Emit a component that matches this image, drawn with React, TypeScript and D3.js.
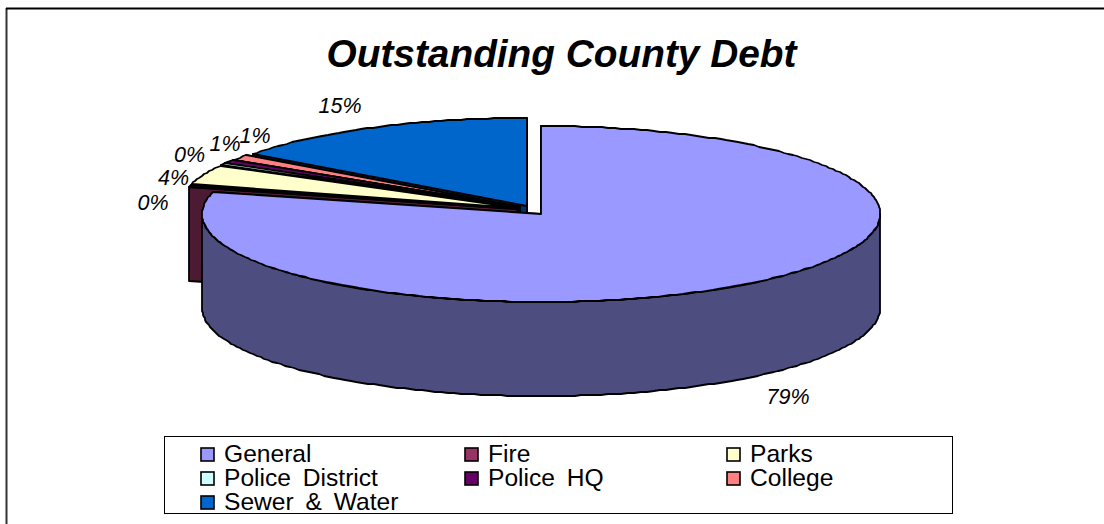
import React from "react";
import * as d3 from "d3";

const categories = ["General", "Fire", "Parks", "Police District", "Police HQ", "College", "Sewer & Water"];
const shares = [79, 0.4, 3.6, 0.3, 0.7, 1, 15];
const fills = ["#9999FF", "#993366", "#FFFFCC", "#CCFFFF", "#660066", "#FF8080", "#0066CC"];
const sides = ["#4D4D80", "#4D1A33", "#808066", "#668080", "#330033", "#804040", "#003366"];
const explosions = [0.039, 0.049, 0.049, 0.049, 0.049, 0.045, 0.039];
const labelAnchors: [number, number][] = [
  [788, 404], [153, 210], [173.5, 185], [189.5, 162], [225, 151], [255, 143], [340, 113],
];

const W = 1104;
const H = 524;
const FONT = "'Liberation Sans', Arial, sans-serif";

// Plot geometry of the tilted pie
const cx = 533;
const cy = 210.2;
const rx = 339;
const ry = 88;
const depth = 94;
const liftRatio = 1.4;

const xUnit = d3.scaleLinear().domain([-1, 1]).range([-rx, rx]);
const yUnit = d3.scaleLinear().domain([-1, 1]).range([-ry, ry]);

type Pt = [number, number];

const pieLayout = d3.pie<number>().sort(null).startAngle(0).endAngle(2 * Math.PI);
const arcs = pieLayout(shares);

const onRim = (a: number, ox: number, oy: number): Pt => [
  Math.round(ox + xUnit(Math.sin(a))),
  Math.round(oy - yUnit(Math.cos(a))),
];

const rimAngles = (a0: number, a1: number): number[] => {
  const n = Math.max(2, Math.ceil(Math.abs(a1 - a0) / 0.02));
  return d3.range(n + 1).map((i) => a0 + ((a1 - a0) * i) / n);
};

const toPath = d3.line<Pt>().x((p) => p[0]).y((p) => p[1]);

const closed = (pts: Pt[]) => (toPath(pts) ?? "") + "Z";

export default function App() {
  // Back slices first so nearer ones paint over them
  const order = d3.range(shares.length).reverse();

  return (
    <svg
      width={W}
      height={H}
      viewBox={`0 0 ${W} ${H}`}
      style={{ position: "absolute", left: 0, top: 0, display: "block", background: "#fff" }}
    >
      <rect x={0} y={0} width={W} height={H} fill="#fff" />
      <line x1={6.5} y1={8} x2={6.5} y2={H} stroke="#333" strokeWidth={2} />
      <line x1={6} y1={8.5} x2={W} y2={8.5} stroke="#000" strokeWidth={2} />

      <text
        x={561.5}
        y={67}
        textAnchor="middle"
        fontFamily={FONT}
        fontSize={38.8}
        fontWeight="bold"
        fontStyle="italic"
        fill="#000"
      >
        Outstanding County Debt
      </text>

      {order.map((i) => {
        const { startAngle: a0, endAngle: a1 } = arcs[i];
        const mid = (a0 + a1) / 2;
        const ox = cx + explosions[i] * xUnit(Math.sin(mid));
        const oy = cy - explosions[i] * liftRatio * yUnit(Math.cos(mid));
        const apex: Pt = [Math.round(ox), Math.round(oy)];
        const rim = rimAngles(a0, a1).map((a) => onRim(a, ox, oy));
        const drop = (p: Pt): Pt => [p[0], p[1] + depth];

        const startEdge = onRim(a0, ox, oy);
        const endEdge = onRim(a1, ox, oy);
        const front =
          a0 < 1.5 * Math.PI && a1 > 0.5 * Math.PI
            ? rimAngles(Math.max(a0, 0.5 * Math.PI), Math.min(a1, 1.5 * Math.PI)).map((a) => onRim(a, ox, oy))
            : [];

        return (
          <g key={categories[i]} stroke="#000" strokeWidth={1.8} strokeLinejoin="round">
            {/* cut faces of the wedge, the rear one first */}
            <path d={closed([apex, endEdge, drop(endEdge), drop(apex)])} fill={sides[i]} />
            <path d={closed([apex, startEdge, drop(startEdge), drop(apex)])} fill={sides[i]} />
            {/* outer rim wall */}
            {front.length > 0 && (
              <path d={closed([...front, ...front.map(drop).reverse()])} fill={sides[i]} />
            )}
            <path d={closed([apex, ...rim])} fill={fills[i]} />
          </g>
        );
      })}

      {labelAnchors.map(([x, y], i) => (
        <text
          key={categories[i]}
          x={x}
          y={y}
          textAnchor="middle"
          fontFamily={FONT}
          fontSize={21.5}
          fontStyle="italic"
          fill="#000"
        >
          {`${Math.round(shares[i])}%`}
        </text>
      ))}

      <rect x={164.5} y={436.5} width={788} height={77} fill="#fff" stroke="#000" strokeWidth={1} />
      {categories.map((c, i) => {
        const col = i % 3;
        const row = Math.floor(i / 3);
        const sx = [201, 465, 727][col];
        const sy = 448 + row * 24;
        return (
          <g key={c}>
            <rect x={sx} y={sy} width={13} height={13} fill={fills[i]} stroke="#000" strokeWidth={1.6} />
            <text x={sx + 23} y={sy + 14} fontFamily={FONT} fontSize={24.6} wordSpacing={5} fill="#000">
              {c}
            </text>
          </g>
        );
      })}
    </svg>
  );
}
